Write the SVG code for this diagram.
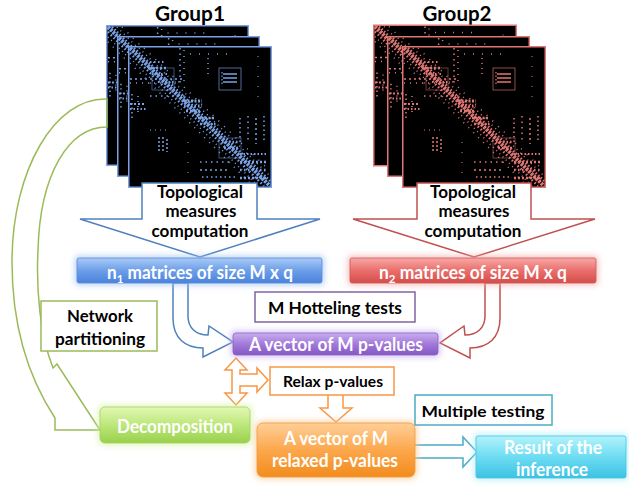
<svg xmlns="http://www.w3.org/2000/svg" xmlns:xlink="http://www.w3.org/1999/xlink" width="629" height="487" viewBox="0 0 629 487">
<style>
text{font-family:Lato,"Liberation Sans",sans-serif;font-weight:bold;text-anchor:middle}
.dk{fill:#000}
.wt{fill:#fff}
.glow{filter:url(#blur);opacity:.75}
.lbl{fill:#fff}
</style>
<defs>
<filter id="blur" x="-30%" y="-60%" width="160%" height="220%"><feGaussianBlur stdDeviation="3"/></filter>
<linearGradient id="gBlue" x1="0" y1="0" x2="0" y2="1"><stop offset="0" stop-color="#a9c9f6"/><stop offset="0.5" stop-color="#6d9fe9"/><stop offset="1" stop-color="#4a82dc"/></linearGradient>
<linearGradient id="gRed" x1="0" y1="0" x2="0" y2="1"><stop offset="0" stop-color="#f6a8a6"/><stop offset="0.5" stop-color="#ea6f6c"/><stop offset="1" stop-color="#d44d4a"/></linearGradient>
<linearGradient id="gPur" x1="0" y1="0" x2="0" y2="1"><stop offset="0" stop-color="#c9aef0"/><stop offset="0.5" stop-color="#a27ad9"/><stop offset="1" stop-color="#8556c4"/></linearGradient>
<linearGradient id="gGrn" x1="0" y1="0" x2="0" y2="1"><stop offset="0" stop-color="#e2f8b4"/><stop offset="0.5" stop-color="#bce77a"/><stop offset="1" stop-color="#9ad04c"/></linearGradient>
<linearGradient id="gOrg" x1="0" y1="0" x2="0" y2="1"><stop offset="0" stop-color="#ffcf98"/><stop offset="0.5" stop-color="#fca74c"/><stop offset="1" stop-color="#f28c1e"/></linearGradient>
<linearGradient id="gCyn" x1="0" y1="0" x2="0" y2="1"><stop offset="0" stop-color="#b2f4fc"/><stop offset="0.5" stop-color="#6ddcf2"/><stop offset="1" stop-color="#3cc2e4"/></linearGradient>
<symbol id="mat" viewBox="0 0 144 142">
<rect x="0.75" y="0.75" width="142.5" height="140.5" fill="#000" stroke="currentColor" stroke-width="1.5"/>
<g fill="none" stroke="currentColor">
<line x1="2" y1="2" x2="142" y2="140" stroke-width="4" stroke-dasharray="2.5 1"/>
<line x1="6" y1="2" x2="142" y2="135" stroke-width="2.5" stroke-dasharray="1.5 2"/>
<line x1="2" y1="7" x2="136" y2="140" stroke-width="2.5" stroke-dasharray="1.5 2.5"/>
<line x1="11" y1="2" x2="142" y2="130" stroke-width="1.5" stroke-dasharray="1 4"/>
<line x1="2" y1="12" x2="130" y2="140" stroke-width="1.5" stroke-dasharray="1 3.5"/>
<line x1="16" y1="2" x2="142" y2="125" stroke-width="1.5" stroke-dasharray="1 7"/>
<line x1="2" y1="17" x2="125" y2="140" stroke-width="1.5" stroke-dasharray="1 6"/>
<line x1="52" y1="2" x2="52" y2="40" stroke-width="1.5" stroke-dasharray="1.5 4"/>
<line x1="56" y1="4" x2="56" y2="36" stroke-width="1.5" stroke-dasharray="1 5"/>
<line x1="2" y1="33" x2="56" y2="33" stroke-width="1.5" stroke-dasharray="2 3"/>
<line x1="2" y1="37" x2="48" y2="37" stroke-width="1.5" stroke-dasharray="1 5"/>
<line x1="2" y1="58" x2="18" y2="58" stroke-width="2" stroke-dasharray="2 2"/>
<line x1="2" y1="63" x2="18" y2="63" stroke-width="2" stroke-dasharray="1.5 2"/>
<line x1="4" y1="48" x2="4" y2="72" stroke-width="1.5" stroke-dasharray="1.5 3"/>
<line x1="10" y1="50" x2="10" y2="70" stroke-width="1.5" stroke-dasharray="1 4"/>
<line x1="22" y1="50" x2="60" y2="50" stroke-width="1.5" stroke-dasharray="1.5 4"/>
<line x1="56" y1="55" x2="74" y2="55" stroke-width="3" stroke-dasharray="2 1.5"/>
<line x1="56" y1="60" x2="74" y2="60" stroke-width="3" stroke-dasharray="1.5 2"/>
<line x1="58" y1="65" x2="74" y2="65" stroke-width="2.5" stroke-dasharray="2 2"/>
<line x1="70" y1="72" x2="86" y2="72" stroke-width="2.5" stroke-dasharray="2 1.5"/>
<line x1="72" y1="78" x2="88" y2="78" stroke-width="2.5" stroke-dasharray="1.5 2"/>
<line x1="18" y1="16" x2="38" y2="16" stroke-width="2" stroke-dasharray="1.5 2.5"/>
<line x1="20" y1="22" x2="40" y2="22" stroke-width="2.5" stroke-dasharray="2 2"/>
<line x1="24" y1="28" x2="42" y2="28" stroke-width="2" stroke-dasharray="1.5 3"/>
<line x1="30" y1="36" x2="48" y2="36" stroke-width="2" stroke-dasharray="1.5 2"/>
<line x1="80" y1="12" x2="80" y2="30" stroke-width="1.5" stroke-dasharray="1 4"/>
<line x1="62" y1="8" x2="100" y2="8" stroke-width="1.5" stroke-dasharray="1 8"/>
<line x1="95" y1="28" x2="109" y2="28" stroke-width="1.5"/>
<line x1="95" y1="32" x2="109" y2="32" stroke-width="1.5"/>
<line x1="95" y1="36" x2="109" y2="36" stroke-width="1.5"/>
<line x1="94" y1="26" x2="94" y2="40" stroke-width="1.2" stroke-dasharray="1.5 2"/>
<line x1="31" y1="91" x2="31" y2="106" stroke-width="1.5" stroke-dasharray="2 2"/>
<line x1="35" y1="91" x2="35" y2="106" stroke-width="1.5" stroke-dasharray="2 2"/>
<line x1="39" y1="93" x2="39" y2="106" stroke-width="1.5" stroke-dasharray="2 2"/>
<line x1="22" y1="84" x2="40" y2="84" stroke-width="1.2" stroke-dasharray="1 4"/>
<line x1="112" y1="72" x2="112" y2="96" stroke-width="1.5" stroke-dasharray="1.5 3"/>
<line x1="120" y1="70" x2="120" y2="94" stroke-width="1.5" stroke-dasharray="1.5 4"/>
<line x1="128" y1="72" x2="128" y2="98" stroke-width="1.5" stroke-dasharray="2 3"/>
<line x1="136" y1="70" x2="136" y2="96" stroke-width="1.5" stroke-dasharray="1.5 3"/>
<line x1="72" y1="116" x2="104" y2="116" stroke-width="1.5" stroke-dasharray="1.5 4"/>
<line x1="72" y1="124" x2="100" y2="124" stroke-width="1.5" stroke-dasharray="2 3"/>
<line x1="74" y1="131" x2="108" y2="131" stroke-width="1.5" stroke-dasharray="1.5 3"/>
<line x1="112" y1="108" x2="140" y2="108" stroke-width="2" stroke-dasharray="1.5 2"/>
<line x1="112" y1="116" x2="140" y2="116" stroke-width="2.5" stroke-dasharray="2 2"/>
<line x1="112" y1="124" x2="140" y2="124" stroke-width="2.5" stroke-dasharray="1.5 2.5"/>
<line x1="112" y1="132" x2="140" y2="132" stroke-width="2.5" stroke-dasharray="2 2"/>
<line x1="94" y1="96" x2="110" y2="96" stroke-width="2.5" stroke-dasharray="1.5 2"/>
<line x1="96" y1="102" x2="112" y2="102" stroke-width="2.5" stroke-dasharray="2 2"/>
<line x1="60" y1="96" x2="60" y2="136" stroke-width="1" stroke-dasharray="1 9"/>
<line x1="130" y1="10" x2="130" y2="60" stroke-width="1" stroke-dasharray="1 9"/>
<rect x="24" y="22" width="22" height="22" stroke-width="0.8" opacity="0.6"/>
<rect x="91" y="22" width="22" height="22" stroke-width="0.8" opacity="0.8"/>
<rect x="91" y="92" width="22" height="20" stroke-width="0.8" opacity="0.6"/>
</g>
</symbol>
</defs>
<rect width="629" height="487" fill="#fff"/>

<g id="group1">
<text x="190" y="21" font-size="21" class="dk" textLength="70" lengthAdjust="spacingAndGlyphs">Group1</text>
<use href="#mat" x="106" y="24" width="143" height="143" style="color:#7aa2e4"/>
<use href="#mat" x="117" y="35" width="143" height="143" style="color:#7aa2e4"/>
<use href="#mat" x="128" y="46" width="144" height="142" style="color:#7aa2e4"/>
</g>
<g id="group2">
<text x="457" y="21" font-size="21" class="dk" textLength="69" lengthAdjust="spacingAndGlyphs">Group2</text>
<use href="#mat" x="373" y="24" width="144" height="143" style="color:#e07775"/>
<use href="#mat" x="387" y="35" width="143" height="143" style="color:#e07775"/>
<use href="#mat" x="402" y="46" width="144" height="142" style="color:#e07775"/>
</g>

<g id="topo1">
<path d="M142,183 L257,183 L257,219 L320,219 L200,257 L80,219 L142,219 Z" fill="#fff" stroke="#4f81bd" stroke-width="1.5"/>
<text x="200" y="198" font-size="16.5" class="dk" textLength="86" lengthAdjust="spacingAndGlyphs">Topological</text>
<text x="201" y="217" font-size="16.5" class="dk" textLength="71" lengthAdjust="spacingAndGlyphs">measures</text>
<text x="200" y="237" font-size="16.5" class="dk" textLength="97" lengthAdjust="spacingAndGlyphs">computation</text>
</g>
<g id="topo2">
<path d="M417,183 L531,183 L531,219 L595,219 L474,257 L353,219 L417,219 Z" fill="#fff" stroke="#c0504d" stroke-width="1.5"/>
<text x="473" y="198" font-size="16.5" class="dk" textLength="86" lengthAdjust="spacingAndGlyphs">Topological</text>
<text x="474" y="217" font-size="16.5" class="dk" textLength="71" lengthAdjust="spacingAndGlyphs">measures</text>
<text x="473" y="237" font-size="16.5" class="dk" textLength="97" lengthAdjust="spacingAndGlyphs">computation</text>
</g>

<g id="connectors">
<path d="M107,99 C55,97 12,170 12,262 C12,330 30,380 55,418 L55,430 L100,430 L57,364 L53,368 C40,335 36,290 38,250 C40,175 68,127 107,127 Z" fill="none" stroke="#9bbb59" stroke-width="1.5" stroke-linejoin="miter"/>
<path d="M173,283 L173,318 C173,338 185,348 203,348 L203,357 L233,342 L209,326 L208,335 C196,335 188,328 188,316 L188,283 Z" fill="#fff" stroke="#4f81bd" stroke-width="1.5"/>
<path d="M500,283 L500,318 C500,338 488,348 470,348 L470,358 L440,343 L464,326 L465,335 C477,335 485,328 485,316 L485,283 Z" fill="#fff" stroke="#c0504d" stroke-width="1.5"/>
<path d="M236,358 L247,370 L240,370 L240,374 L257,374 L257,368 L268,380 L257,392 L257,386 L240,386 L240,393 L247,393 L236,405 L225,393 L232,393 L232,370 L225,370 Z" fill="#fff" stroke="#f79646" stroke-width="1.5"/>
<path d="M328,393 L343,393 L343,408 L352,408 L336,422 L320,408 L328,408 Z" fill="#fff" stroke="#f79646" stroke-width="1.5"/>
<path d="M412,445 L463,445 L463,437 L477,452 L463,467 L463,458 L412,458 Z" fill="#fff" stroke="#4bacc6" stroke-width="1.5"/>
</g>

<g id="n1">
<rect x="75" y="256" width="249" height="29" rx="3" fill="#9ec2f4" class="glow"/>
<rect x="77" y="258" width="245" height="25" rx="2" fill="url(#gBlue)" stroke="#5a8ad6" stroke-width="0.8"/>
<text x="200" y="279" font-size="18" class="lbl" textLength="186" lengthAdjust="spacingAndGlyphs">n<tspan font-size="12" dy="4">1</tspan><tspan dy="-4"> matrices of size M x q</tspan></text>
</g>
<g id="n2">
<rect x="348" y="256" width="250" height="29" rx="3" fill="#f4a8a6" class="glow"/>
<rect x="350" y="258" width="246" height="25" rx="2" fill="url(#gRed)" stroke="#cc5a58" stroke-width="0.8"/>
<text x="473" y="279" font-size="18" class="lbl" textLength="188" lengthAdjust="spacingAndGlyphs">n<tspan font-size="12" dy="4">2</tspan><tspan dy="-4"> matrices of size M x q</tspan></text>
</g>
<g id="hotelling">
<rect x="255" y="292" width="160" height="30" fill="#fff" stroke="#8064a2" stroke-width="1.5"/>
<text x="335" y="314" font-size="17" class="dk" textLength="134" lengthAdjust="spacingAndGlyphs">M Hotteling tests</text>
</g>
<g id="pvalues">
<rect x="231" y="331" width="209" height="26" rx="4" fill="#c6aaf0" class="glow"/>
<rect x="233" y="333" width="205" height="22" rx="3" fill="url(#gPur)" stroke="#8a64c2" stroke-width="0.8"/>
<text x="336" y="351" font-size="18" class="lbl" textLength="174" lengthAdjust="spacingAndGlyphs">A vector of M p-values</text>
</g>
<g id="network">
<rect x="41" y="301" width="116" height="50" fill="#fff" stroke="#9bbb59" stroke-width="1.5"/>
<text x="100" y="322" font-size="17" class="dk" textLength="66" lengthAdjust="spacingAndGlyphs">Network</text>
<text x="100" y="345" font-size="17" class="dk" textLength="90" lengthAdjust="spacingAndGlyphs">partitioning</text>
</g>
<g id="relax">
<rect x="270" y="367" width="124" height="28" fill="#fff" stroke="#f79646" stroke-width="1.5"/>
<text x="333" y="387" font-size="15" class="dk" textLength="100" lengthAdjust="spacingAndGlyphs">Relax p-values</text>
</g>
<g id="decomposition">
<rect x="98" y="405" width="154" height="40" rx="6" fill="#d4f2a0" class="glow"/>
<rect x="100" y="407" width="150" height="36" rx="5" fill="url(#gGrn)" stroke="#a2d060" stroke-width="0.8"/>
<text x="175" y="433" font-size="18" class="lbl" textLength="116" lengthAdjust="spacingAndGlyphs">Decomposition</text>
</g>
<g id="relaxed">
<rect x="255" y="421" width="162" height="58" rx="7" fill="#fcc890" class="glow"/>
<rect x="257" y="423" width="158" height="54" rx="6" fill="url(#gOrg)" stroke="#f29a3a" stroke-width="0.8"/>
<text x="336" y="445" font-size="19" class="lbl" textLength="104" lengthAdjust="spacingAndGlyphs">A vector of M</text>
<text x="335" y="467" font-size="19" class="lbl" textLength="126" lengthAdjust="spacingAndGlyphs">relaxed p-values</text>
</g>
<g id="multiple">
<rect x="415" y="395" width="137" height="30" fill="#fff" stroke="#4bacc6" stroke-width="1.5"/>
<text x="483" y="417" font-size="16" class="dk" textLength="123" lengthAdjust="spacingAndGlyphs">Multiple testing</text>
</g>
<g id="result">
<rect x="474" y="434" width="154" height="46" rx="3" fill="#a6eefa" class="glow"/>
<rect x="476" y="436" width="150" height="42" rx="2" fill="url(#gCyn)" stroke="#4cc0dc" stroke-width="0.8"/>
<text x="553" y="454" font-size="19" class="lbl" textLength="98" lengthAdjust="spacingAndGlyphs">Result of the</text>
<text x="552" y="476" font-size="19" class="lbl" textLength="72" lengthAdjust="spacingAndGlyphs">inference</text>
</g>
</svg>
